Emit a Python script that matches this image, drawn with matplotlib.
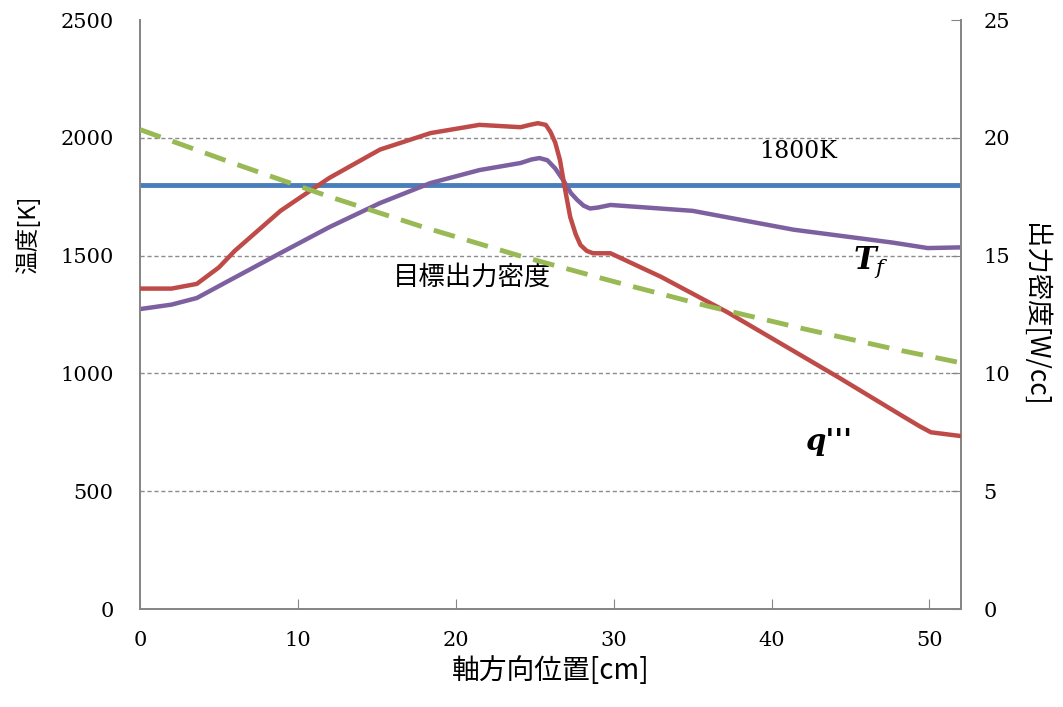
import matplotlib
matplotlib.use("Agg")
import matplotlib.pyplot as plt

# 軸方向位置 [cm] と各曲線の値
x_tf = [0, 2, 3.6, 5.7, 8.9, 12.0, 15.2, 18.4, 21.5, 24.1, 24.8, 25.3, 25.8, 26.3, 26.8, 27.3, 27.7, 28.1, 28.5, 29.0, 29.8, 35.0, 41.4, 47.7, 49.9, 52]
tf = [1273, 1292, 1320, 1396, 1511, 1621, 1723, 1808, 1863, 1893, 1908, 1914, 1905, 1870, 1821, 1765, 1736, 1712, 1700, 1704, 1715, 1690, 1610, 1555, 1532, 1535]

x_q = [0, 2, 3.6, 5, 6, 8.9, 10, 12, 15.2, 18.4, 21.5, 24.1, 24.7, 25.2, 25.7, 26.0, 26.3, 26.6, 26.9, 27.25, 27.6, 27.9, 28.3, 28.7, 29.8, 33.0, 37.2, 44.2, 48.2, 49.4, 50.1, 52]
q = [13.6, 13.6, 13.8, 14.5, 15.2, 16.9, 17.4, 18.3, 19.5, 20.2, 20.55, 20.45, 20.55, 20.62, 20.55, 20.25, 19.8, 19.06, 17.9, 16.64, 15.9, 15.45, 15.2, 15.1, 15.1, 14.1, 12.6, 9.85, 8.23, 7.75, 7.5, 7.34]

x_target = [0, 6, 12, 18, 24, 30, 36, 42, 48, 52]
target = [20.35, 18.9, 17.5, 16.2, 15.0, 13.9, 12.85, 11.9, 11.0, 10.45]

limit_x = [0, 52]
limit = [1800, 1800]

jp = ["Noto Sans CJK JP", "DejaVu Sans"]
serif = "DejaVu Serif"
gray = "#868686"
plt.rcParams["mathtext.fontset"] = "dejavuserif"

fig = plt.figure(figsize=(10.63, 7.07), dpi=100)
ax = fig.add_axes([0.1317, 0.1386, 0.7723, 0.8331])
ax2 = ax.twinx()

ax.set_xlim(0, 52)
ax.set_ylim(0, 2500)
ax2.set_ylim(0, 25)

# グリッド
for v in [500, 1000, 1500, 2000]:
    ax.axhline(v, color="#8c8c8c", lw=1.0, ls=(0, (3, 2)), zorder=0)

ax.plot(limit_x, limit, color="#4A7EBB", lw=3.5, solid_capstyle="butt", zorder=3)
ax.plot(x_tf, tf, color="#7D60A0", lw=3.2, solid_joinstyle="round", zorder=3)
ax2.plot(x_q, q, color="#BE4B48", lw=3.2, solid_joinstyle="round", zorder=3)
ax2.plot(x_target, target, color="#98B954", lw=3.5, ls=(0, (4.5, 2.6)), zorder=3)

for a in (ax, ax2):
    for s in a.spines.values():
        s.set_color(gray)
        s.set_linewidth(1.3)
    a.spines["top"].set_visible(False)

ax.set_xticks([0, 10, 20, 30, 40, 50])
ax.set_yticks([0, 500, 1000, 1500, 2000, 2500])
ax2.set_yticks([0, 5, 10, 15, 20, 25])
ax.tick_params(axis="x", direction="in", length=7, color=gray, pad=16, labelsize=15)
ax.tick_params(axis="y", length=0, pad=19, labelsize=15)
ax2.tick_params(axis="y", direction="in", length=7, color=gray, pad=16, labelsize=15)
for lab in ax.get_xticklabels() + ax.get_yticklabels() + ax2.get_yticklabels():
    lab.set_family(serif)

ax.set_xlabel("軸方向位置[cm]", family=jp, fontsize=20, labelpad=4)
ax.set_ylabel("温度[K]", family=jp, fontsize=17)
ax.yaxis.set_label_coords(-0.122, 0.635)
ax2.set_ylabel("出力密度[W/cc]", family=jp, fontsize=19, rotation=-90, labelpad=28)

ax.text(41.7, 1940, "1800K", family=serif, fontsize=17, ha="center", va="center")
ax.text(21.0, 1410, "目標出力密度", family=jp, fontsize=19, ha="center", va="center")
ax.text(46.3, 1470, r"$\boldsymbol{T}_f$", fontsize=22, ha="center", va="center")
ax.text(43.6, 710, "q'''", family=serif, fontsize=21, fontweight="bold", style="italic",
        ha="center", va="center")

fig.savefig("out.png", dpi=100)
